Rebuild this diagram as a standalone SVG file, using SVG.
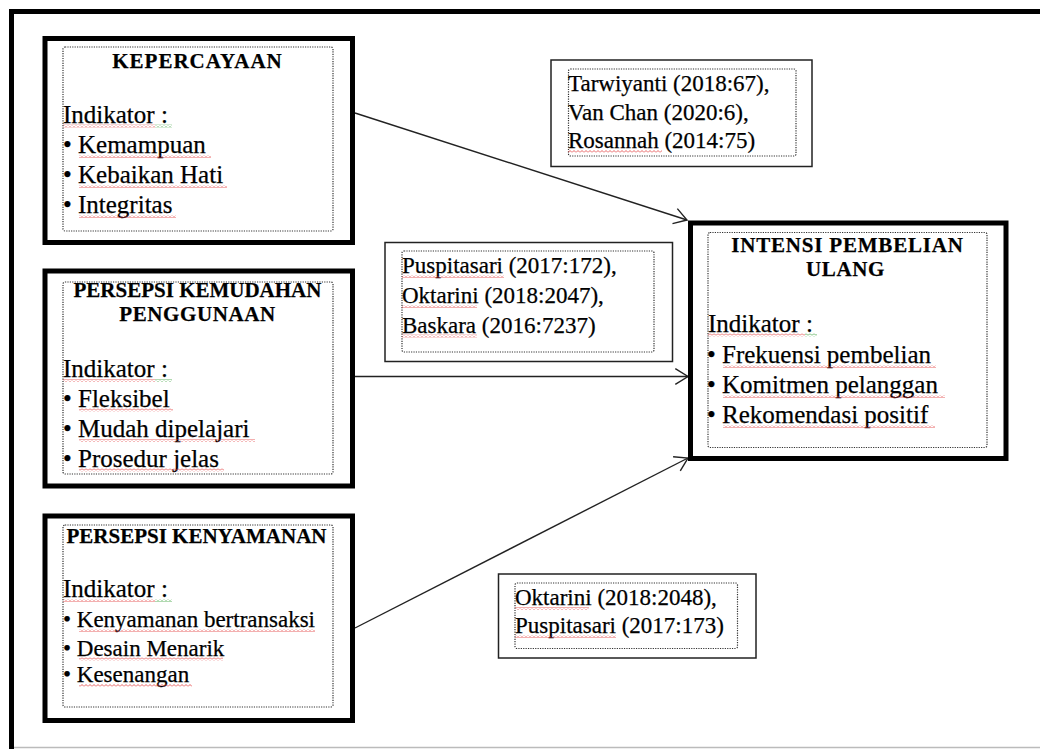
<svg xmlns="http://www.w3.org/2000/svg" width="1040" height="749" viewBox="0 0 1040 749">
<style>
.frame{fill:none;stroke:#000;stroke-width:5}
.node{fill:#fff;stroke:#000;stroke-width:5}
.inner{fill:none;stroke:#333;stroke-width:1.2;stroke-dasharray:1.2 1.2}
.cite{fill:#fff;stroke:#222;stroke-width:1.5}
text{font-family:"Liberation Serif","Times New Roman",serif;fill:#000;stroke:#000;stroke-width:0.25}
.title{font-size:21px;font-weight:bold;text-anchor:middle}
.b25{font-size:25px}
.b23{font-size:23px}
.conn{fill:none;stroke:#222;stroke-width:1.4;marker-end:url(#arr)}
.red{fill:url(#wavyR)}
.grn{fill:url(#wavyG)}
</style>
<defs>
<marker id="arr" markerUnits="userSpaceOnUse" markerWidth="20" markerHeight="20" viewBox="-16 -10 20 20" refX="0" refY="0" orient="auto">
<path d="M-12.7,-7.9 L0,0 L-12.7,7.9" fill="none" stroke="#222" stroke-width="1.4"/>
</marker>
<pattern id="wavyR" patternUnits="userSpaceOnUse" width="4" height="3">
<path d="M0,2.5 L2,0.5 L4,2.5" fill="none" stroke="#e23a3a" stroke-width="0.8"/>
</pattern>
<pattern id="wavyG" patternUnits="userSpaceOnUse" width="4" height="3">
<path d="M0,2.5 L2,0.5 L4,2.5" fill="none" stroke="#3aa03a" stroke-width="0.8"/>
</pattern>
</defs>
<rect x="0" y="0" width="1040" height="749" fill="#fff"/>
<path class="frame" d="M1040,11.5 H11.5 V749"/>
<line x1="14" y1="747.5" x2="1040" y2="747.5" stroke="#bbb" stroke-width="1.5"/>

<g id="connectors">
<line class="conn" x1="355" y1="113" x2="687" y2="220"/>
<line class="conn" x1="355" y1="376.5" x2="688" y2="376.5"/>
<line class="conn" x1="355" y1="628" x2="688" y2="458"/>
</g>

<g id="kepercayaan">
<rect class="node" x="45" y="38.5" width="307.5" height="204"/>
<rect class="inner" x="63" y="47" width="270" height="184" rx="2"/>
<text class="title" x="197.5" y="68" letter-spacing="1">KEPERCAYAAN</text>
<text class="b25" x="63" y="122.7">Indikator :</text>
<text class="b25" x="63" y="153">• Kemampuan</text>
<text class="b25" x="63" y="183">• Kebaikan Hati</text>
<text class="b25" x="63" y="213">• Integritas</text>
<rect class="red" x="63" y="124.5" width="92" height="3"/>
<rect class="grn" x="155" y="124.5" width="17" height="3"/>
<rect class="red" x="79" y="155" width="132" height="3"/>
<rect class="red" x="79" y="185" width="148" height="3"/>
<rect class="red" x="79" y="215" width="97" height="3"/>
</g>

<g id="kemudahan">
<rect class="node" x="45" y="271" width="307.5" height="215"/>
<rect class="inner" x="63" y="282" width="270" height="192" rx="2"/>
<text class="title" x="197.5" y="296.7" font-size="20.5">PERSEPSI KEMUDAHAN</text>
<text class="title" x="197.5" y="320.7" font-size="20.5" letter-spacing="0.6">PENGGUNAAN</text>
<text class="b25" x="63" y="377">Indikator :</text>
<text class="b25" x="63" y="406.7">• Fleksibel</text>
<text class="b25" x="63" y="437">• Mudah dipelajari</text>
<text class="b25" x="63" y="466.7">• Prosedur jelas</text>
<rect class="red" x="63" y="379" width="92" height="3"/>
<rect class="grn" x="155" y="379" width="17" height="3"/>
<rect class="red" x="79" y="408.5" width="94" height="3"/>
<rect class="red" x="79" y="439" width="176" height="3"/>
<rect class="red" x="79" y="468.5" width="145" height="3"/>
</g>

<g id="kenyamanan">
<rect class="node" x="45" y="516" width="307.5" height="204.5"/>
<rect class="inner" x="63" y="525" width="270" height="182" rx="2"/>
<text class="title" x="196.5" y="542.7">PERSEPSI KENYAMANAN</text>
<text class="b25" x="63" y="597.3">Indikator :</text>
<text class="b23" x="63" y="627.3">• Kenyamanan bertransaksi</text>
<text class="b23" x="63" y="655.7">• Desain Menarik</text>
<text class="b23" x="63" y="682.3">• Kesenangan</text>
<rect class="red" x="63" y="599" width="92" height="3"/>
<rect class="grn" x="155" y="599" width="17" height="3"/>
<rect class="red" x="79" y="629" width="236" height="3"/>
<rect class="red" x="79" y="657.5" width="144" height="3"/>
<rect class="red" x="79" y="684" width="113" height="3"/>
</g>

<g id="intensi">
<rect class="node" x="690.5" y="223" width="315.5" height="235.5"/>
<rect class="inner" x="708" y="232.5" width="279" height="215" rx="2"/>
<text class="title" x="847.5" y="251.7" letter-spacing="0.8">INTENSI PEMBELIAN</text>
<text class="title" x="845.5" y="276" letter-spacing="0.6">ULANG</text>
<text class="b25" x="708" y="331.7">Indikator :</text>
<text class="b25" x="707" y="363.3">• Frekuensi pembelian</text>
<text class="b25" x="707" y="393.3">• Komitmen pelanggan</text>
<text class="b25" x="707" y="423.3">• Rekomendasi positif</text>
<rect class="red" x="708" y="333.5" width="97" height="3"/>
<rect class="grn" x="805" y="333.5" width="12" height="3"/>
<rect class="red" x="723" y="365" width="213" height="3"/>
<rect class="red" x="723" y="395" width="222" height="3"/>
<rect class="red" x="723" y="425" width="212" height="3"/>
</g>

<g id="cite-kepercayaan">
<rect class="cite" x="551" y="60" width="261" height="106.5"/>
<rect class="inner" x="568.5" y="69" width="227.5" height="87" rx="2"/>
<text class="b23" x="568" y="90.7">Tarwiyanti (2018:67),</text>
<text class="b23" x="568" y="120">Van Chan (2020:6),</text>
<text class="b23" x="568" y="148.3">Rosannah (2014:75)</text>
<rect class="red" x="568" y="150" width="94" height="3"/>
</g>

<g id="cite-kemudahan">
<rect class="cite" x="385" y="242.5" width="287.5" height="119"/>
<rect class="inner" x="402" y="251" width="252" height="101" rx="2"/>
<text class="b23" x="402" y="273.3">Puspitasari (2017:172),</text>
<text class="b23" x="402" y="303.3">Oktarini (2018:2047),</text>
<text class="b23" x="402" y="332.7">Baskara (2016:7237)</text>
<rect class="red" x="402" y="275" width="102" height="3"/>
<rect class="red" x="402" y="305" width="75" height="3"/>
<rect class="red" x="402" y="334.5" width="75" height="3"/>
</g>

<g id="cite-kenyamanan">
<rect class="cite" x="498.5" y="574" width="257.5" height="84"/>
<rect class="inner" x="515" y="583" width="222.5" height="65.5" rx="2"/>
<text class="b23" x="515" y="605">Oktarini (2018:2048),</text>
<text class="b23" x="515" y="633.3">Puspitasari (2017:173)</text>
<rect class="red" x="515" y="607" width="74" height="3"/>
<rect class="red" x="515" y="635" width="101" height="3"/>
</g>
</svg>
